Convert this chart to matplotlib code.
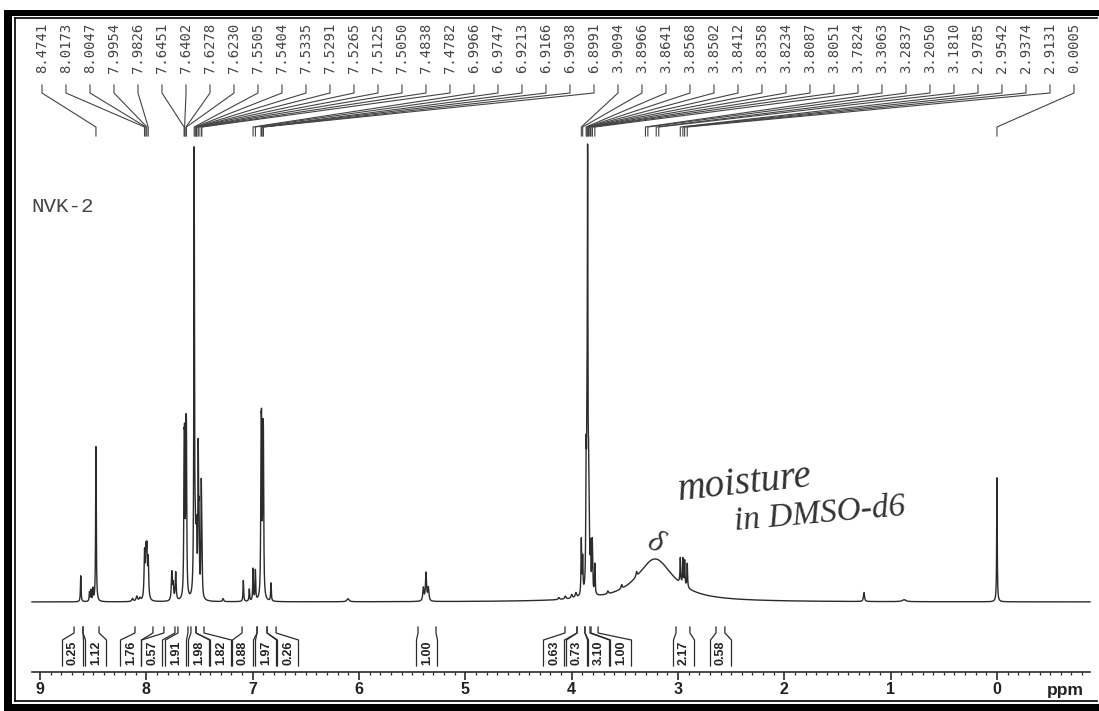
import numpy as np
import matplotlib
matplotlib.use("Agg")
import matplotlib.pyplot as plt
from matplotlib.patches import Rectangle
from matplotlib.transforms import Affine2D, blended_transform_factory

# ── resonance lines (ppm, height, half width) ───────────────────────────────
line_ppm = [8.617, 8.535, 8.521, 8.502, 8.4741, 8.130, 8.090, 8.060,
            8.0173, 8.0047, 7.9954, 7.9826, 7.761, 7.748, 7.724,
            7.6451, 7.6402, 7.6278, 7.6230, 7.5505, 7.5404, 7.5335, 7.5291,
            7.5265, 7.5125, 7.5050, 7.4838, 7.4782, 7.279, 7.088, 7.032,
            6.9966, 6.9747, 6.9213, 6.9166, 6.9038, 6.8991, 6.828, 6.104,
            5.395, 5.370, 5.348, 4.120, 4.060, 4.000, 3.960,
            3.9094, 3.8966, 3.8641, 3.8568, 3.8502, 3.8412, 3.8358, 3.8234,
            3.8087, 3.8051, 3.7824, 3.660, 3.530, 3.390, 3.216,
            2.9785, 2.9542, 2.9374, 2.9131, 1.251, 0.875, 0.0005]
line_height = [26, 9, 11, 12, 155, 3, 5, 3,
               45, 42, 44, 38, 28, 16, 28,
               120, 120, 126, 126, 445, 40, 35, 30,
               30, 140, 70, 100, 60, 3, 21, 12,
               32, 30, 130, 130, 122, 122, 18, 3,
               13, 28, 13, 2, 3, 4, 5,
               55, 35, 115, 100, 410, 80, 50, 40,
               35, 30, 30, 3, 4, 5, 43,
               25, 26, 25, 24, 9, 2, 124]
line_hwhm = [.0035, .0035, .0035, .0035, .0035, .008, .008, .008,
             .005, .005, .005, .005, .005, .005, .005,
             .0035, .0035, .0035, .0035, .0035, .0035, .0035, .0035,
             .0035, .0035, .0035, .0035, .0035, .006, .0035, .0035,
             .0035, .0035, .0035, .0035, .0035, .0035, .0035, .012,
             .006, .006, .006, .008, .008, .008, .008,
             .0035, .0035, .0035, .0035, .0035, .0035, .0035, .0035,
             .0035, .0035, .0035, .006, .006, .006, .21,
             .0035, .0035, .0035, .0035, .006, .02, .003]

# ── peak-pick list printed along the top ────────────────────────────────────
pick_labels = ["8.4741", "8.0173", "8.0047", "7.9954", "7.9826", "7.6451",
               "7.6402", "7.6278", "7.6230", "7.5505", "7.5404", "7.5335",
               "7.5291", "7.5265", "7.5125", "7.5050", "7.4838", "7.4782",
               "6.9966", "6.9747", "6.9213", "6.9166", "6.9038", "6.8991",
               "3.9094", "3.8966", "3.8641", "3.8568", "3.8502", "3.8412",
               "3.8358", "3.8234", "3.8087", "3.8051", "3.7824", "3.3063",
               "3.2837", "3.2050", "3.1810", "2.9785", "2.9542", "2.9374",
               "2.9131", "0.0005"]

# ── integrals (from, to in ppm) and printed values ──────────────────────────
int_from = [8.680, 8.596, 8.107, 7.835, 7.703, 7.581, 7.533, 7.100, 6.959,
            6.865, 5.445, 4.063, 3.950, 3.875, 3.818, 3.019, 2.643]
int_to = [8.596, 8.445, 7.938, 7.731, 7.609, 7.533, 7.458, 6.959, 6.865,
          6.780, 5.276, 3.950, 3.875, 3.828, 3.752, 2.888, 2.559]
int_value = ["0.25", "1.12", "1.76", "0.57", "1.91", "1.98", "1.82", "0.88",
             "1.97", "0.26", "1.00", "0.63", "0.73", "3.10", "1.00", "2.17",
             "0.58"]
int_box_px = [73, 96, 131, 152, 176, 199, 221, 243, 266, 288,
              427, 554, 577, 599, 621, 684, 721]

# ── page geometry (pixels of the scanned sheet) ─────────────────────────────
W, H = 1099, 711
PX0, PX_PER_PPM = 997.0, 106.33   # ppm scale calibration
BASE_Y = 602                      # spectrum baseline row
INK = "#2b2b2b"


def ppm_of(px):
    return (PX0 - px) / PX_PER_PPM


fig = plt.figure(figsize=(W / 100, H / 100), dpi=100)
fig.patch.set_facecolor("white")
ax = fig.add_axes([0, 0, 1, 1])
ax.set_xlim(ppm_of(0), ppm_of(W))
ax.set_ylim(BASE_Y - H, BASE_Y)     # 1 intensity unit == 1 pixel
ax.axis("off")

pix = Affine2D().scale(1 / W, -1 / H).translate(0, 1) + fig.transFigure
bt = blended_transform_factory(ax.transData, pix)   # x in ppm, y in pixel rows

# ── spectrum ────────────────────────────────────────────────────────────────
grid = np.linspace(ppm_of(32), ppm_of(1090), 90000)
spec = np.zeros_like(grid)
for c, h, g in zip(line_ppm, line_height, line_hwhm):
    spec += h / (1 + ((grid - c) / g) ** 2)
ax.plot(grid, spec, color=INK, lw=1.0, solid_joinstyle="round")

# ── peak-pick labels and leader lines ───────────────────────────────────────
for i, lab in enumerate(pick_labels):
    xl = ppm_of(42 + 24 * i)
    xp = float(lab)
    ax.text(xl, 73, lab, transform=bt, rotation=90, ha="center", va="bottom",
            family="DejaVu Sans Mono", fontsize=10, color="#444444")
    ax.plot([xl, xl, xp, xp], [85, 93, 127, 136], transform=bt,
            color="#444444", lw=0.8)

ax.text(31, 206, "NVK-2", transform=pix, ha="left", va="center",
        family="Liberation Mono", fontsize=15, color="#444444")

# ── integral brackets ───────────────────────────────────────────────────────
for a, b, val, bx in zip(int_from, int_to, int_value, int_box_px):
    bl, br = ppm_of(bx - 10.5), ppm_of(bx + 10.5)
    ax.plot([a, a, bl, bl], [627, 633, 640, 666], transform=bt, color=INK, lw=0.9)
    ax.plot([b, b, br, br], [627, 633, 640, 666], transform=bt, color=INK, lw=0.9)
    ax.text(ppm_of(bx), 653, val, transform=bt, rotation=90, ha="center",
            va="center", family="Liberation Sans", fontweight="bold",
            fontsize=9, color="#222222")

# ── ppm scale ───────────────────────────────────────────────────────────────
ax.plot([ppm_of(32), ppm_of(1090)], [672, 672], transform=bt, color=INK, lw=1.2)
ticks = np.round(np.arange(-8, 91) * 0.1, 1)
major = ticks[np.isclose(ticks, np.round(ticks))]
minor = ticks[~np.isclose(ticks, np.round(ticks))]
ax.vlines(major, 672, 680, transform=bt, color=INK, lw=1.2)
ax.vlines(minor, 672, 675, transform=bt, color=INK, lw=0.9)
for t in major:
    ax.text(t, 690, f"{int(t)}", transform=bt, ha="center", va="center",
            family="Liberation Sans", fontweight="bold", fontsize=11.5,
            color="#222222")
ax.text(1065, 690, "ppm", transform=pix, ha="center", va="center",
        family="Liberation Sans", fontweight="bold", fontsize=12.5,
        color="#222222")

# ── hand-written note ───────────────────────────────────────────────────────
ax.text(745, 484, "moisture", transform=pix, ha="center", va="center",
        family="Liberation Serif", style="italic", fontsize=28,
        rotation=6, color="#333333")
ax.text(820, 514, "in DMSO-d6", transform=pix, ha="center", va="center",
        family="Liberation Serif", style="italic", fontsize=24,
        rotation=5, color="#333333")
ax.text(655, 543, "δ", transform=pix, ha="center", va="center",
        family="Liberation Serif", style="italic", fontsize=22,
        rotation=-25, color="#333333")

# ── page frame ──────────────────────────────────────────────────────────────
for x0, y0, x1, y1 in [(4, 10, 1099, 16), (4, 10, 12, 711), (4, 704, 1099, 711)]:
    ax.add_patch(Rectangle((x0, y0), x1 - x0, y1 - y0, transform=pix,
                           color="black", lw=0))
ax.plot([14.5, 14.5], [18, 701], transform=pix, color="black", lw=1.2)
ax.plot([14.5, 1097], [18, 18], transform=pix, color="black", lw=1.2)
ax.plot([14.5, 1097], [701, 701], transform=pix, color="black", lw=1.2)

fig.savefig("out.png", dpi=100, facecolor="white")
